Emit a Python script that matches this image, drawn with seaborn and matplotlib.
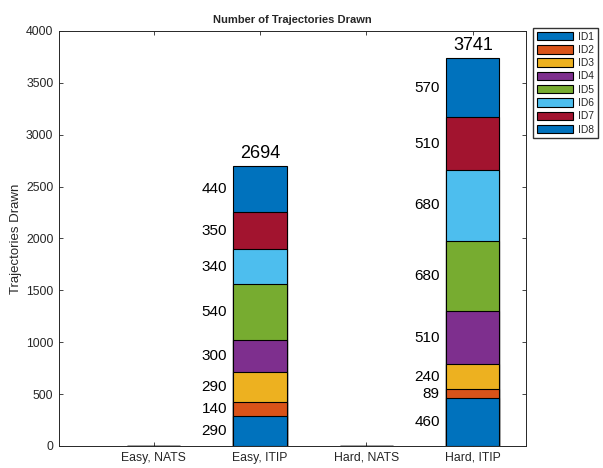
import numpy as np
import pandas as pd
import matplotlib
matplotlib.use("Agg")
import matplotlib.pyplot as plt
import seaborn as sns
from matplotlib.patches import Patch

# Data (bottom segment first)
categories = ["Easy, NATS", "Easy, ITIP", "Hard, NATS", "Hard, ITIP"]
series = ["ID1", "ID2", "ID3", "ID4", "ID5", "ID6", "ID7", "ID8"]
easy_nats = [0, 0, 0, 0, 0, 0, 0, 0]
easy_itip = [288, 137, 292, 301, 542, 340, 352, 442]
hard_nats = [0, 0, 0, 0, 0, 0, 0, 0]
hard_itip = [458, 89, 240, 512, 680, 680, 510, 572]
colors = ["#0072BD", "#D95319", "#EDB120", "#7E2F8E",
          "#77AC30", "#4DBEEE", "#A2142F", "#0072BD"]

sns.set_style("ticks")
plt.rcParams['font.family'] = ['Liberation Sans', 'DejaVu Sans']

values = np.array([easy_nats, easy_itip, hard_nats, hard_itip])  # (cat, series)
cum = values.cumsum(axis=1)


def sig2(v):
    # round to two significant figures like the labels
    if v == 0:
        return 0
    d = int(np.floor(np.log10(abs(v))))
    return int(round(v, -d + 1))


fig = plt.figure(figsize=(6.03, 4.68), dpi=100)
ax = fig.add_axes([59 / 603, 1 - 446 / 468, 467 / 603, 415 / 468])

# draw cumulative bars from top segment down so lower ones overlay
for i in range(len(series) - 1, -1, -1):
    df = pd.DataFrame({"cat": categories, "val": cum[:, i]})
    sns.barplot(data=df, x="cat", y="val", order=categories, color=colors[i],
                saturation=1, width=0.5, edgecolor="black", linewidth=0.8,
                errorbar=None, ax=ax)

# segment labels and totals
for c in range(len(categories)):
    total = values[c].sum()
    if total == 0:
        continue
    bottom = 0
    for i in range(len(series)):
        v = values[c, i]
        ax.text(c - 0.31, bottom + v / 2, str(sig2(v)), ha="right", va="center",
                fontsize=11, color="black")
        bottom += v
    ax.text(c, total + 40, str(total), ha="center", va="bottom",
            fontsize=13, color="black")

ax.set_xlim(-0.89, 3.5)
ax.set_ylim(0, 4000)
ax.set_yticks(np.arange(0, 4001, 500))
ax.set_xlabel("")
ax.set_ylabel("Trajectories Drawn", fontsize=9.5, color="#262626", labelpad=3)
ax.set_title("Number of Trajectories Drawn", fontsize=8, fontweight="bold", pad=6)
ax.tick_params(direction="in", top=True, right=True, labelsize=8.8,
               colors="#262626", length=3, width=0.6, pad=4)
for s in ax.spines.values():
    s.set_visible(True)
    s.set_linewidth(0.7)
    s.set_color("#262626")

handles = [Patch(facecolor=colors[i], edgecolor="black", linewidth=0.8, label=series[i])
           for i in range(len(series))]
fig.legend(handles=handles, loc="upper left", bbox_to_anchor=(533 / 603, 1 - 28 / 468),
           borderaxespad=0, fontsize=7.4, frameon=True, fancybox=False,
           edgecolor="black", handlelength=3.5, handleheight=0.9,
           labelspacing=0.32, handletextpad=0.55, borderpad=0.35)

fig.savefig("out.png", dpi=100)
